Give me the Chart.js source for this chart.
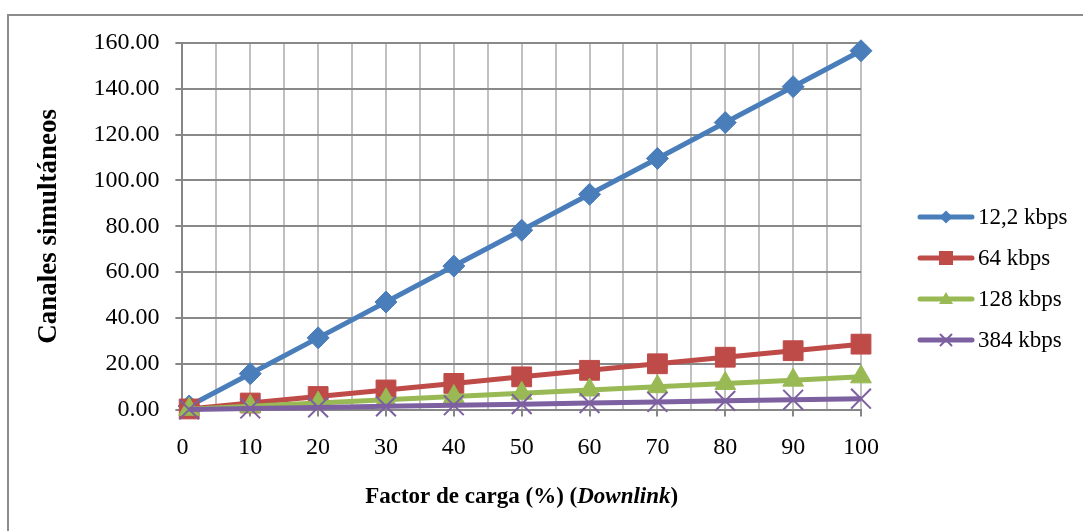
<!DOCTYPE html>
<html>
<head>
<meta charset="utf-8">
<script src="https://cdn.jsdelivr.net/npm/chart.js@4"></script>
<style>
  html, body { margin: 0; padding: 0; background: #fff; }
  #wrap { position: relative; width: 1083px; height: 531px; overflow: hidden; }
  #frame { position: absolute; left: 7px; top: 14px; width: 1100px; height: 560px;
           border-left: 2px solid #8c8c8c; border-top: 2px solid #8c8c8c; }
  #chart { position: absolute; left: 0; top: 0; }
  #legend { position: absolute; left: 917px; top: 196px; font-family: "Liberation Serif", serif;
            font-size: 23px; color: #000; }
  .item { display: flex; align-items: center; height: 41px; }
  .item canvas { margin-right: 3px; }
</style>
</head>
<body>
<div id="wrap">
  <div id="frame"></div>
  <canvas id="chart" width="1083" height="531"></canvas>
  <div id="legend"></div>
</div>
<script>
// load factor (%) on the x axis
const loadFactor = [1, 10, 20, 30, 40, 50, 60, 70, 80, 90, 100];

// simultaneous channels per service
const ch12k2 = [1.57, 15.66, 31.32, 46.98, 62.64, 78.30, 93.96, 109.62, 125.28, 140.94, 156.60];
const ch64k  = [0.29, 2.86, 5.71, 8.57, 11.43, 14.29, 17.14, 20.00, 22.86, 25.71, 28.57];
const ch128k = [0.14, 1.43, 2.86, 4.29, 5.71, 7.14, 8.57, 10.00, 11.43, 12.86, 14.29];
const ch384k = [0.05, 0.48, 0.95, 1.43, 1.90, 2.38, 2.86, 3.33, 3.81, 4.29, 4.76];

const seriesNames = ["12,2 kbps", "64 kbps", "128 kbps", "384 kbps"];
// x title: plain part + italic part
const xTitleParts = [["Factor de carga (%) (", false], ["Downlink", true], [")", false]];
const yTitle = "Canales simultáneos";

const FONT = "'Liberation Serif', 'Times New Roman', serif";

const styles = [
  { color: "#4a7ebb", pointStyle: "rectRot", radius: 11 },
  { color: "#be4b48", pointStyle: "rect", radius: 14 },
  { color: "#98b954", pointStyle: "triangle", radius: 12 },
  { color: "#7d60a0", pointStyle: "crossRot", radius: 14 }
];

const allSeries = [ch12k2, ch64k, ch128k, ch384k];

const datasets = allSeries.map((vals, i) => ({
  label: seriesNames[i],
  data: vals.map((v, j) => ({ x: loadFactor[j], y: v })),
  showLine: true,
  borderColor: styles[i].color,
  backgroundColor: styles[i].color,
  borderWidth: 5,
  pointStyle: styles[i].pointStyle,
  pointRadius: styles[i].radius,
  pointBorderWidth: i === 3 ? 2 : 1,
  pointBorderColor: styles[i].color,
  pointBackgroundColor: styles[i].color,
  order: 3 - i,       // last series ends up on top
  clip: false,
  tension: 0
}));

// draws the x title with the italic "Downlink"
const xTitlePlugin = {
  id: "xTitle",
  afterDraw(chart) {
    const { ctx, chartArea } = chart;
    const y = chart.scales.x.bottom - 14;
    ctx.save();
    ctx.fillStyle = "#000";
    ctx.textBaseline = "middle";
    const fontFor = it => (it ? "italic " : "") + "bold 23px " + FONT;
    let total = 0;
    xTitleParts.forEach(([txt, it]) => { ctx.font = fontFor(it); total += ctx.measureText(txt).width; });
    let x = (chartArea.left + chartArea.right) / 2 - total / 2;
    xTitleParts.forEach(([txt, it]) => {
      ctx.font = fontFor(it);
      ctx.fillText(txt, x, y);
      x += ctx.measureText(txt).width;
    });
    ctx.restore();
  }
};

const chart = new Chart(document.getElementById("chart"), {
  type: "scatter",
  data: { datasets },
  plugins: [xTitlePlugin],
  options: {
    responsive: false,
    animation: false,
    layout: { padding: { left: 33, right: 222, top: 43, bottom: 20 } },
    plugins: { legend: { display: false }, tooltip: { enabled: false } },
    scales: {
      x: {
        type: "linear", min: 0, max: 100,
        ticks: {
          stepSize: 5, autoSkip: false, maxRotation: 0, padding: 17,
          color: "#000", font: { family: FONT, size: 24 },
          callback: v => (v % 10 === 0 ? String(v) : "")
        },
        grid: {
          color: "#c0c0c0", lineWidth: 2, tickLength: 7,
          tickColor: ctx => (ctx.tick && ctx.tick.value % 10 === 0 ? "#868686" : "rgba(0,0,0,0)")
        },
        border: { color: "#868686", width: 2 },
        // space kept for the title, drawn by xTitlePlugin
        title: {
          display: true, text: "Factor de carga", color: "rgba(0,0,0,0)", padding: { top: 4, bottom: 0 },
          font: { family: FONT, size: 23, weight: "bold" }
        }
      },
      y: {
        min: 0, max: 160,
        ticks: {
          stepSize: 20, padding: 16, color: "#000",
          font: { family: FONT, size: 24 },
          callback: v => v.toFixed(2)
        },
        grid: { color: "#898989", lineWidth: 2, tickLength: 7, tickColor: "#868686" },
        border: { color: "#868686", width: 2 },
        title: {
          display: true, text: yTitle, color: "#000", padding: { top: 0, bottom: 12 },
          font: { family: FONT, size: 27, weight: "bold" }
        }
      }
    }
  }
});

// legend: line sample with marker, drawn like the Excel legend
const legend = document.getElementById("legend");
seriesNames.forEach((name, i) => {
  const item = document.createElement("div");
  item.className = "item";
  const c = document.createElement("canvas");
  c.width = 58; c.height = 24;
  const g = c.getContext("2d");
  g.strokeStyle = styles[i].color;
  g.lineWidth = 5;
  g.lineCap = "round";
  g.beginPath(); g.moveTo(3, 12); g.lineTo(55, 12); g.stroke();
  g.fillStyle = styles[i].color;
  g.lineWidth = 2;
  g.beginPath();
  const s = styles[i].pointStyle;
  if (s === "rectRot") {
    const r = 6.5;
    g.moveTo(29, 12 - r); g.lineTo(29 + r, 12); g.lineTo(29, 12 + r); g.lineTo(29 - r, 12); g.closePath(); g.fill();
  } else if (s === "rect") {
    const h = 7; g.fillRect(29 - h, 12 - h, 2 * h, 2 * h);
  } else if (s === "triangle") {
    const r = 7;
    g.moveTo(29, 12 - r); g.lineTo(29 + r, 12 + 5); g.lineTo(29 - r, 12 + 5); g.closePath(); g.fill();
  } else {
    const h = 5.5;
    g.moveTo(29 - h, 12 - h); g.lineTo(29 + h, 12 + h); g.moveTo(29 + h, 12 - h); g.lineTo(29 - h, 12 + h); g.stroke();
  }
  item.appendChild(c);
  const t = document.createElement("span");
  t.textContent = name;
  item.appendChild(t);
  legend.appendChild(item);
});
</script>
</body>
</html>
